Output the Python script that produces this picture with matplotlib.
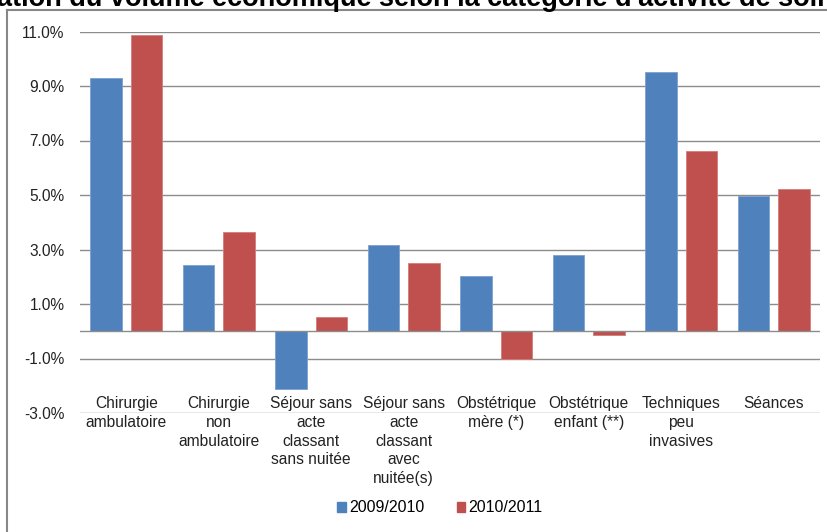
import numpy as np
import matplotlib.pyplot as plt
from matplotlib.lines import Line2D
from matplotlib.patches import Patch

plt.rcParams['font.family'] = ['Liberation Sans', 'DejaVu Sans']

categories = ["Chirurgie\nambulatoire", "Chirurgie\nnon\nambulatoire",
              "Séjour sans\nacte\nclassant\nsans nuitée",
              "Séjour sans\nacte\nclassant\navec\nnuitée(s)",
              "Obstétrique\nmère (*)", "Obstétrique\nenfant (**)",
              "Techniques\npeu\ninvasives", "Séances"]
v2009 = [9.30, 2.44, -2.11, 3.17, 2.01, 2.78, 9.53, 4.98]
v2010 = [10.88, 3.65, 0.53, 2.51, -1.01, -0.14, 6.63, 5.22]
series = ["2009/2010", "2010/2011"]
yticks = [-3, -1, 1, 3, 5, 7, 9, 11]

blue = "#4F81BD"
red = "#C0504D"
txt = "#222222"

fig = plt.figure(figsize=(8.27, 5.32), dpi=100)
ax = fig.add_axes([80/827, (532-413)/532, 740/827, (413-31.5)/532])

x = np.arange(len(categories))
w = 0.34
ax.bar(x - 0.22, v2009, w, color=blue, edgecolor="#7BA0D0", linewidth=0.6, zorder=3)
ax.bar(x + 0.22, v2010, w, color=red, edgecolor="#D47C7A", linewidth=0.6, zorder=3)

ax.set_xlim(-0.5, len(categories) - 0.5)
ax.set_ylim(-3, 11)
ax.set_yticks(yticks)
ax.set_yticklabels(["%.1f%%" % t for t in yticks], fontsize=11.2, color=txt)
ax.tick_params(axis="y", length=0, pad=11)
ax.set_xticks([])
for s in ax.spines.values():
    s.set_visible(False)
ax.grid(axis="y", color="#8c8c8c", linewidth=1, zorder=0)
ax.axhline(0, color="#8c8c8c", linewidth=1, zorder=4)

for i, lab in enumerate(categories):
    ax.annotate(lab, xy=(i, -3), xytext=(0, 12), textcoords="offset points",
                ha="center", va="top", fontsize=11.2, color=txt,
                linespacing=1.3, annotation_clip=False)

handles = [Patch(color=blue), Patch(color=red)]
fig.legend(handles, series, loc="center", bbox_to_anchor=(440/827, 1 - 508/532),
           ncol=2, frameon=False, fontsize=11.5, handlelength=0.55, handleheight=0.55,
           handletextpad=0.2, columnspacing=2.0)

# chart frame (left and top edges visible)
fig.add_artist(Line2D([7/827, 7/827], [-0.1, 1 - 10/532], transform=fig.transFigure,
                      color="#878787", linewidth=1.5))
fig.add_artist(Line2D([7/827, 1.1], [1 - 10/532, 1 - 10/532], transform=fig.transFigure,
                      color="#878787", linewidth=1.5))

fig.text(-0.004, 1 - 5.5/532, "ation du volume économique selon la catégorie d'activité de soins",
         fontsize=19.5, fontweight="bold", va="baseline", ha="left", color="black")

fig.savefig("out.png", dpi=100)
